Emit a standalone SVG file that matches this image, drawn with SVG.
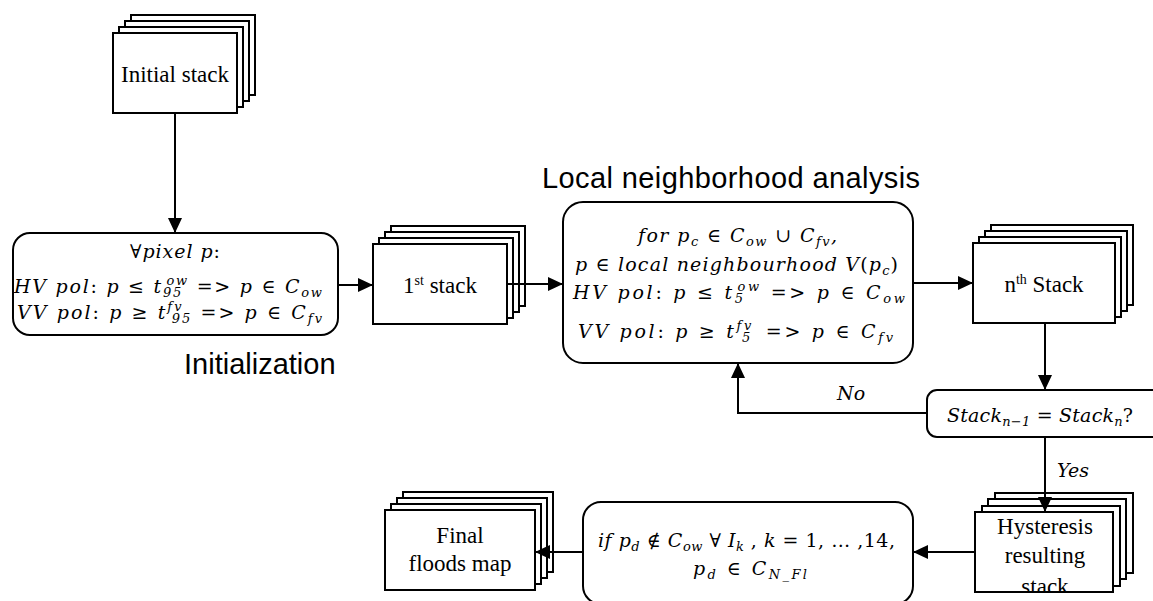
<svg xmlns="http://www.w3.org/2000/svg" width="1153" height="601" viewBox="0 0 1153 601">
<style>
.b{fill:#fff;stroke:#000;stroke-width:2}
.c{fill:none;stroke:#000;stroke-width:2;marker-end:url(#ah)}
.l{font-family:"Liberation Serif",serif;font-size:23px;fill:#000}
.m{font-family:"DejaVu Serif",serif;font-style:italic;font-size:19px;fill:#000}
.s{font-size:13px}
.u{font-style:normal}
.t{font-family:"Liberation Sans",sans-serif;font-size:29px;fill:#000}
</style>
<defs>
<marker id="ah" markerWidth="16" markerHeight="14" refX="15" refY="7" orient="auto" markerUnits="userSpaceOnUse"><path d="M0,0 L15,7 L0,14 z" fill="#000"/></marker>
<clipPath id="hc"><rect x="976" y="513" width="136" height="78"/></clipPath>
</defs>
<rect width="1153" height="601" fill="#fff"/>

<g id="initial-stack">
<rect class="b" x="131" y="15" width="124" height="80"/>
<rect class="b" x="125" y="21" width="124" height="80"/>
<rect class="b" x="119" y="27" width="124" height="80"/>
<rect class="b" x="113" y="33" width="124" height="80"/>
<text class="l" x="175" y="82" text-anchor="middle">Initial stack</text>
</g>

<g id="init-box">
<rect class="b" x="13" y="233" width="325" height="102" rx="17"/>
<text class="m" x="130" y="258" textLength="90"><tspan class="u">∀</tspan>pixel p<tspan class="u">:</tspan></text>
<text class="m" x="14" y="293" textLength="308">HV pol<tspan class="u">:</tspan> p ≤ t<tspan class="s" dy="4">95</tspan><tspan class="s" dx="-16.5" dy="-12">ow</tspan><tspan dy="8"> =&gt; p  <tspan class="u">∈</tspan> C</tspan><tspan class="s" dy="4">ow</tspan></text>
<text class="m" x="17" y="319" textLength="305">VV pol<tspan class="u">:</tspan> p ≥ t<tspan class="s" dy="-8">fv</tspan><tspan class="s" dx="-12" dy="12">95</tspan><tspan dy="-4"> =&gt; p  <tspan class="u">∈</tspan> C</tspan><tspan class="s" dy="4">fv</tspan></text>
<text class="t" x="184" y="374">Initialization</text>
</g>

<g id="first-stack">
<rect class="b" x="391" y="226" width="134" height="80"/>
<rect class="b" x="385" y="232" width="134" height="80"/>
<rect class="b" x="379" y="238" width="134" height="80"/>
<rect class="b" x="373" y="244" width="134" height="80"/>
<text class="l" x="440" y="293" text-anchor="middle">1<tspan font-size="14" dy="-8">st</tspan><tspan dy="8"> stack</tspan></text>
</g>

<g id="local-box">
<text class="t" x="542" y="188" textLength="378">Local neighborhood analysis</text>
<rect class="b" x="563" y="202" width="350" height="161" rx="20"/>
<text class="m" x="638" y="242" textLength="199">for p<tspan class="s" dy="4">c</tspan><tspan dy="-4"> <tspan class="u">∈</tspan> C</tspan><tspan class="s" dy="4">ow</tspan><tspan dy="-4"> <tspan class="u">∪</tspan> C</tspan><tspan class="s" dy="4">fv</tspan><tspan dy="-4">,</tspan></text>
<text class="m" x="575" y="271" textLength="323">p <tspan class="u">∈</tspan> local neighbourhood V<tspan class="u">(</tspan>p<tspan class="s" dy="4">c</tspan><tspan class="u" dy="-4">)</tspan></text>
<text class="m" x="573" y="299" textLength="332">HV pol<tspan class="u">:</tspan> p ≤ t<tspan class="s" dy="4">5</tspan><tspan class="s" dx="-8.3" dy="-12">ow</tspan><tspan dy="8"> =&gt; p  <tspan class="u">∈</tspan> C</tspan><tspan class="s" dy="4">ow</tspan></text>
<text class="m" x="578" y="338" textLength="315">VV pol<tspan class="u">:</tspan> p ≥ t<tspan class="s" dy="-8">fv</tspan><tspan class="s" dx="-12" dy="12">5</tspan><tspan dx="4" dy="-4"> =&gt; p  <tspan class="u">∈</tspan> C</tspan><tspan class="s" dy="4">fv</tspan></text>
</g>

<g id="nth-stack">
<rect class="b" x="991" y="225" width="142" height="80"/>
<rect class="b" x="985" y="231" width="142" height="80"/>
<rect class="b" x="979" y="237" width="142" height="80"/>
<rect class="b" x="973" y="243" width="142" height="80"/>
<text class="l" x="1044" y="292" text-anchor="middle">n<tspan font-size="14" dy="-8">th</tspan><tspan dy="8"> Stack</tspan></text>
</g>

<g id="decision">
<rect class="b" x="927" y="390" width="240" height="47" rx="10"/>
<text class="m" x="947" y="422" textLength="186">Stack<tspan class="s" dy="4">n−1</tspan><tspan dy="-4"> = Stack</tspan><tspan class="s" dy="4">n</tspan><tspan class="u" dy="-4">?</tspan></text>
</g>

<g id="hysteresis-stack">
<rect class="b" x="995" y="493" width="138" height="80"/>
<rect class="b" x="988" y="499" width="138" height="80"/>
<rect class="b" x="982" y="506" width="138" height="80"/>
<rect class="b" x="975" y="512" width="138" height="80"/>
<g clip-path="url(#hc)">
<text class="l" x="1045" y="534" text-anchor="middle">Hysteresis</text>
<text class="l" x="1045" y="563" text-anchor="middle">resulting</text>
<text class="l" x="1045" y="594" text-anchor="middle">stack</text>
</g>
</g>

<g id="if-box">
<rect class="b" x="583" y="502" width="330" height="102" rx="18"/>
<text class="m" x="598" y="547" textLength="297">if p<tspan class="s" dy="4">d</tspan><tspan dy="-4"> <tspan class="u">∉</tspan> C</tspan><tspan class="s" dy="4">ow</tspan><tspan dy="-4"> <tspan class="u">∀</tspan> I</tspan><tspan class="s" dy="4">k</tspan><tspan class="u" dy="-4"> , </tspan>k <tspan class="u">= 1, … ,14,</tspan></text>
<text class="m" x="693" y="575" textLength="114">p<tspan class="s" dy="4">d</tspan><tspan dy="-4">  <tspan class="u">∈</tspan> C</tspan><tspan class="s" dy="4">N_Fl</tspan></text>
</g>

<g id="final-stack">
<rect class="b" x="403" y="492" width="150" height="80"/>
<rect class="b" x="397" y="498" width="150" height="80"/>
<rect class="b" x="391" y="504" width="150" height="80"/>
<rect class="b" x="385" y="510" width="150" height="80"/>
<text class="l" x="460" y="543" text-anchor="middle">Final</text>
<text class="l" x="460" y="571" text-anchor="middle">floods map</text>
</g>

<g id="connectors">
<path class="c" d="M175,113 V233"/>
<path class="c" d="M338,285 H373"/>
<path class="c" d="M507,284 H563"/>
<path class="c" d="M913,283 H973"/>
<path class="c" d="M1045,323 V390"/>
<path class="c" d="M927,413 H738 V363"/>
<path class="c" d="M1045,437 V512"/>
<path class="c" d="M975,552 H913"/>
<path class="c" d="M583,552 H535"/>
<text class="m" x="837" y="400">No</text>
<text class="m" x="1057" y="477">Yes</text>
</g>
</svg>
